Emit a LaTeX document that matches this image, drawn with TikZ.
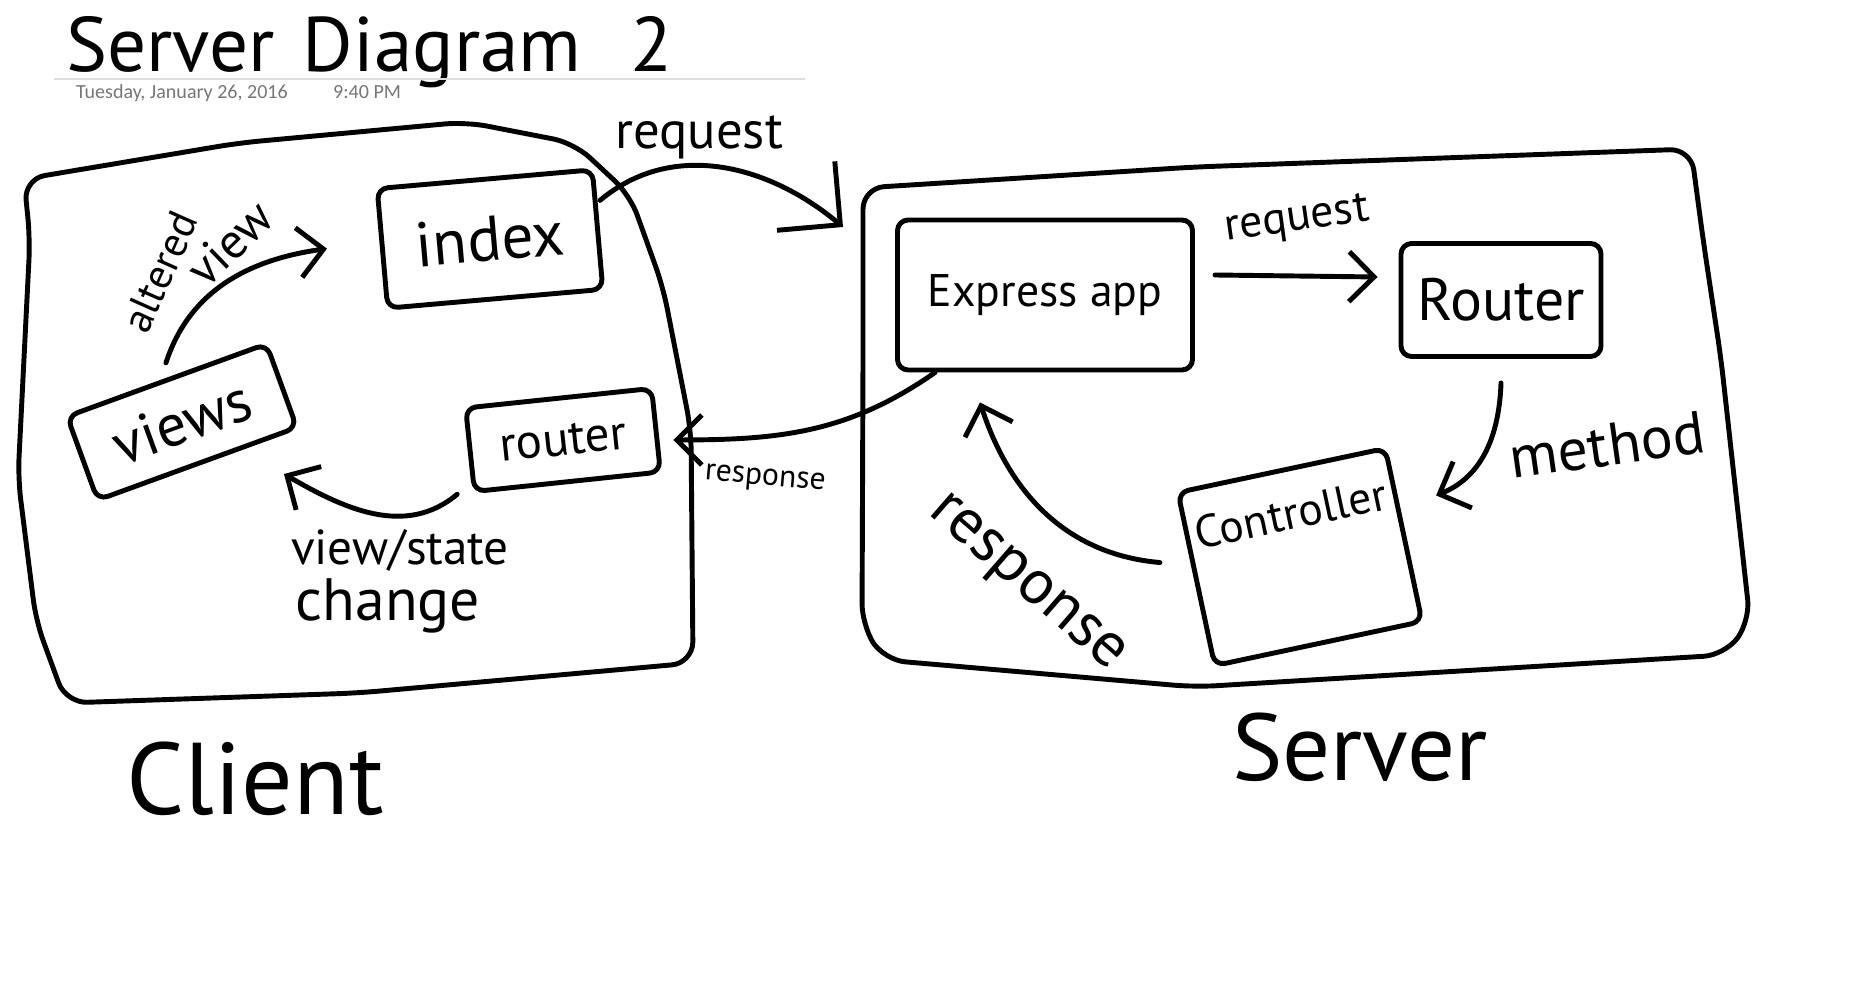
\documentclass[tikz,border=0pt]{standalone}
\usepackage{fontspec}
\setmainfont{PT Sans}
\newfontfamily\datefont{Carlito}
\usepackage{xcolor}
\definecolor{dateGray}{RGB}{118,118,118}
\definecolor{ruleGray}{RGB}{222,222,222}
\usepackage{tikz}
\usetikzlibrary{arrows.meta,positioning}
\newcommand{\handsize}[1]{\fontsize{#1}{#1}\selectfont}
\tikzstyle{ink}=[line width=1.4pt, line cap=round, line join=round]
\tikzstyle{box}=[draw, ink, rounded corners=3pt, inner sep=0pt]
\tikzstyle{flow}=[ink, -{Straight Barb[length=2.5mm,width=5mm,line width=1.4pt]}]
\tikzstyle{note}=[inner sep=1pt]

\begin{document}
\begin{tikzpicture}
        \useasboundingbox (0,0) rectangle (18.74,-9.91);
        % page heading
        \node[note, anchor=base west, font=\handsize{22pt}]
          (title) at (0.62,-0.72) {Server\hspace{8pt}Diagram\hspace{14pt}2};
        \draw[ruleGray, line width=0.6pt] (0.54,-0.79) -- (8.05,-0.79);
        \node[note, anchor=base west, font=\datefont\handsize{5.7pt}, text=dateGray]
          (date) at (0.72,-0.99) {Tuesday, January 26, 2016};
        \node[note, anchor=base west, font=\datefont\handsize{5.7pt}, text=dateGray]
          (time) at (3.29,-0.99) {9:40 PM};
        % client outline
        \draw[ink, rounded corners=6pt] (0.24,-1.79) -- (2.39,-1.43) -- (4.66,-1.22)
          -- (5.74,-1.43) -- (6.30,-1.95) -- (6.63,-2.87) -- (6.91,-4.30) -- (6.93,-6.63)
          -- (3.58,-6.93) -- (0.66,-7.03) -- (0.36,-6.21) -- (0.18,-4.78) -- (0.30,-2.39) -- cycle;
        % server outline
        \draw[ink, rounded corners=6pt] (8.63,-1.88) -- (11.95,-1.67) -- (16.91,-1.49)
          -- (17.03,-2.39) -- (17.21,-3.59) -- (17.50,-6.21) -- (17.25,-6.55) -- (11.95,-6.87)
          -- (8.84,-6.60) -- (8.62,-6.25) -- (8.63,-3.59) -- cycle;
        % client side
        \node[box, minimum width=2.16cm, minimum height=1.2cm, rotate=5, font=\handsize{18pt}]
          (index) at (4.90,-2.39) {index};
        \node[box, minimum width=2.12cm, minimum height=0.89cm, rotate=20, font=\handsize{17pt}]
          (views) at (1.82,-4.22) {views};
        \node[box, minimum width=1.87cm, minimum height=0.84cm, rotate=6, font=\handsize{14pt}]
          (crouter) at (5.63,-4.40) {router};
        \draw[flow] ([yshift=1.5mm]views.north) to[out=72, in=188] ([xshift=-5.3mm]index.west);
        \draw[flow] ([xshift=-1.5mm]crouter.south west) to[out=220, in=-30]
          ([shift={(-0.16,-0.45)}]views.south east);
        \node[note, font=\handsize{12pt}, rotate=66] (altlbl) at (1.60,-2.72) {altered};
        \node[note, font=\handsize{14pt}, rotate=44] (viewlbl) at (2.30,-2.43) {view};
        \node[note, font=\handsize{14pt}] (statelbl) at (4.00,-5.50) {view/state};
        \node[note, font=\handsize{17pt}] (changelbl) at (3.88,-6.06) {change};
        % server side
        \node[box, minimum width=2.95cm, minimum height=1.5cm, font=\handsize{13pt}]
          (express) at (10.45,-2.95) {Express app};
        \node[box, minimum width=2.0cm, minimum height=1.13cm, font=\handsize{17pt}]
          (srouter) at (15.01,-3.00) {Router};
        \node[box, minimum width=2.12cm, text height=0.6cm, text depth=1.17cm, rotate=12,
              font=\handsize{13pt}]
          (controller) at (13.00,-5.57) {Controller};
        \draw[flow] ([shift={(0.2,0.2)}]express.east) -- ([shift={(-0.21,0.23)}]srouter.west);
        \draw[flow] ([yshift=-2.4mm]srouter.south) to[out=-92, in=22]
          ([shift={(0.30,0.39)}]controller.east);
        \draw[flow] ([shift={(-0.34,0.17)}]controller.west) to[out=175, in=-72]
          ([shift={(-0.65,-0.30)}]express.south);
        \node[note, font=\handsize{13pt}, rotate=8] (sreqlbl) at (12.97,-2.21) {request};
        \node[note, font=\handsize{17pt}, rotate=8] (methodlbl) at (16.07,-4.45) {method};
        \node[note, font=\handsize{18pt}, rotate=-41] (sresplbl) at (10.25,-5.85) {response};
        % between the two
        \coordinate (gate) at (8.43,-2.27);
        \draw[ink, -{Straight Barb[length=4.5mm,width=9mm,line width=1.4pt]}]
          ([yshift=2.9mm]index.east) to[out=40, in=140] (gate);
        \draw[flow] ([xshift=4mm]express.south west) to[out=215, in=0]
          ([shift={(0.15,-0.1)}]crouter.east);
        \node[note, font=\handsize{15pt}] (creqlbl) at (6.99,-1.37) {request};
        \node[note, font=\handsize{9pt}, rotate=-5] (cresplbl) at (7.65,-4.80) {response};
        % big captions
        \node[note, font=\handsize{29pt}] (clientlbl) at (2.55,-7.79) {Client};
        \node[note, font=\handsize{27pt}] (serverlbl) at (13.60,-7.47) {Server};
      \end{tikzpicture}
\end{document}
